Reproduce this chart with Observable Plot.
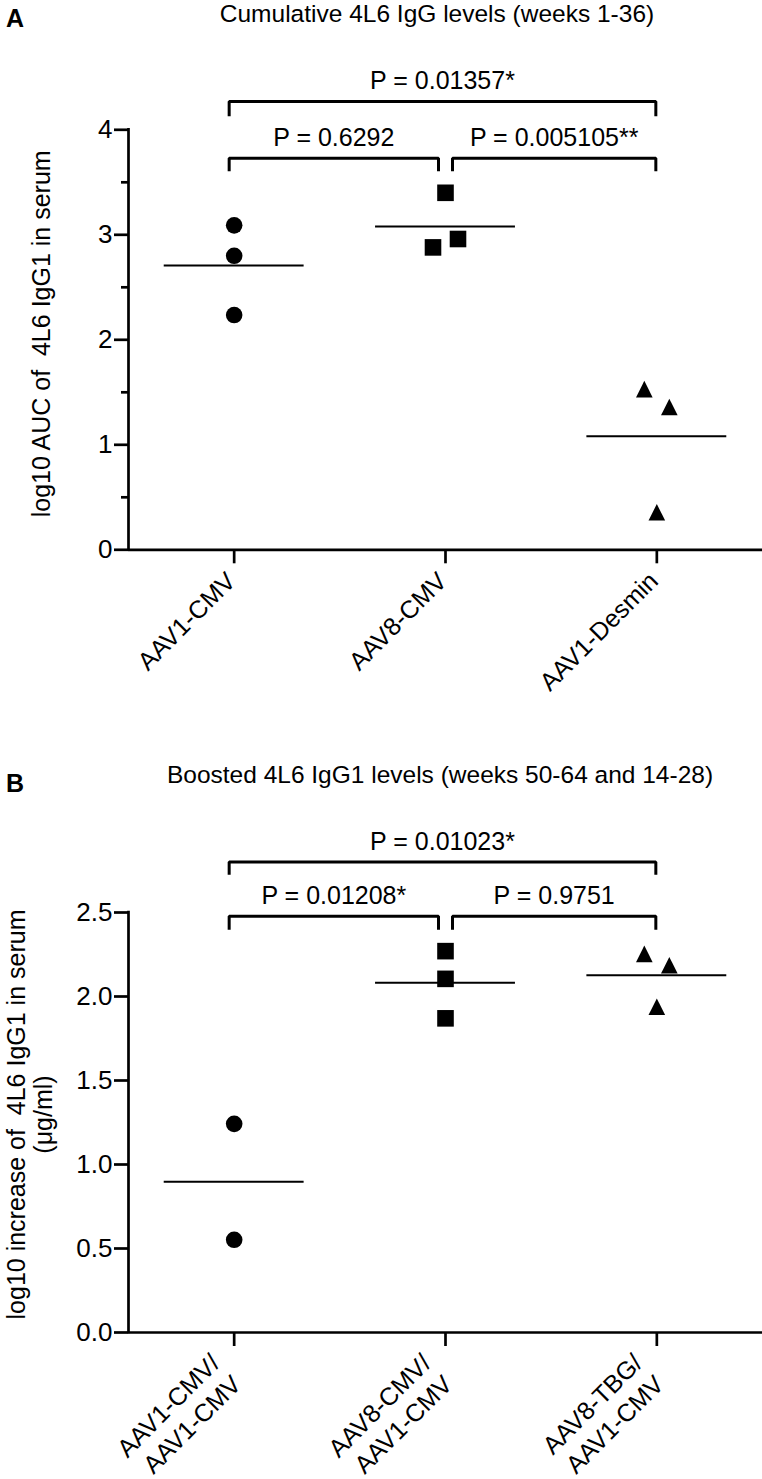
<!DOCTYPE html>
<html><head><meta charset="utf-8">
<script src="https://cdn.jsdelivr.net/npm/d3@7"></script>
<script src="https://cdn.jsdelivr.net/npm/@observablehq/plot@0.6"></script>
<style>
body{margin:0;background:#fff;font-family:"Liberation Sans",Arial,Helvetica,sans-serif;color:#000;}
#wrap{position:relative;width:762px;height:1479px;overflow:hidden;}
.panel{position:absolute;left:0;}
.lbl{position:absolute;font-weight:bold;font-size:25px;line-height:1;transform:translate(-50%,-50%);}
.ttl{position:absolute;font-size:24.5px;line-height:1;white-space:nowrap;transform:translate(-50%,-50%);}
</style></head><body>
<div id="wrap"></div>
<script>
// ---------- Panel A data ----------
const titleA = "Cumulative 4L6 IgG levels (weeks 1-36)";
const categoriesA = ["AAV1-CMV", "AAV8-CMV", "AAV1-Desmin"];
const aav1CmvA = [3.09, 2.80, 2.236];
const aav8CmvA = [3.40, 2.88, 2.96];
const aav1DesminA = [1.53, 1.36, 0.357];
const yTicksA = [0, 1, 2, 3, 4];
const yMinorTicksA = [0.5, 1.5, 2.5, 3.5];
const yTitleA = "log10 AUC of\u00a0 4L6 IgG1 in serum";
const bracketsA = [
  {from: 0, to: 2, tier: 2, label: "P = 0.01357*"},
  {from: 0, to: 1, tier: 1, label: "P = 0.6292"},
  {from: 1, to: 2, tier: 1, label: "P = 0.005105**"}
];

// ---------- Panel B data ----------
const titleB = "Boosted 4L6 IgG1 levels (weeks 50-64 and 14-28)";
const categoriesB = ["AAV1-CMV/\nAAV1-CMV", "AAV8-CMV/\nAAV1-CMV", "AAV8-TBG/\nAAV1-CMV"];
const aav1CmvB = [1.242, 0.552];
const aav8CmvB = [2.27, 2.105, 1.87];
const aav8TbgB = [2.254, 2.186, 1.939];
const yTicksB = [0, 0.5, 1, 1.5, 2, 2.5];
const yTitleB = "log10 increase of\u00a0 4L6 IgG1 in serum\n(\u03bcg/ml)";
const bracketsB = [
  {from: 0, to: 2, tier: 2, label: "P = 0.01023*"},
  {from: 0, to: 1, tier: 1, label: "P = 0.01208*"},
  {from: 1, to: 2, tier: 1, label: "P = 0.9751"}
];

// ---------- symbols ----------
const circleSym = {draw(ctx, size) { const r = Math.sqrt(size / Math.PI); ctx.moveTo(r, 0); ctx.arc(0, 0, r, 0, 2 * Math.PI); }};
const squareSym = {draw(ctx, size) { const s = 2 * Math.sqrt(size / Math.PI); ctx.rect(-s / 2, -s / 2, s, s); }};
const triSym = {draw(ctx, size) { const s = 2 * Math.sqrt(size / Math.PI); ctx.moveTo(0, -s / 2); ctx.lineTo(s / 2, s / 2); ctx.lineTo(-s / 2, s / 2); ctx.closePath(); }};

const FONT = "'Liberation Sans', Arial, Helvetica, sans-serif";
const STEP = 634 / 3; // px per category

function slotsFor(vals, pxPerUnit) {
  const s = vals.map(() => 0);
  for (let i = 0; i < vals.length; i++)
    for (let j = i + 1; j < vals.length; j++)
      if (s[i] === 0 && s[j] === 0 && Math.abs(vals[i] - vals[j]) * pxPerUnit < 20) { s[i] = -1; s[j] = 1; }
  return s;
}

function makePanel(cfg) {
  const pxPerUnit = (cfg.height - cfg.mt - cfg.mb) / cfg.yMax;
  const points = [];
  cfg.series.forEach((vals, gi) => {
    const sl = slotsFor(vals, pxPerUnit);
    vals.forEach((v, k) => points.push({g: gi, v, x: gi + sl[k] * 12.5 / STEP}));
  });
  const means = cfg.series.map((vals, gi) => ({g: gi, m: d3.mean(vals)}));

  const bracketLines = [];
  const bracketTexts = [];
  cfg.brackets.forEach((b, bi) => {
    const sharedStart = cfg.brackets.some(o => o !== b && o.to === b.from);
    const sharedEnd = cfg.brackets.some(o => o !== b && o.from === b.to);
    const xa = b.from + (sharedStart ? 7 : -5) / STEP;
    const xb = b.to + (sharedEnd ? -7 : -1) / STEP;
    const t = cfg.tiers[b.tier];
    const bottom = t.bar - t.leg;
    [[xa, bottom], [xa, t.bar], [xb, t.bar], [xb, bottom]].forEach(([x, y]) => bracketLines.push({id: bi, x, y}));
    bracketTexts.push({x: (xa + xb) / 2, y: t.bar, label: b.label});
  });

  const labels = cfg.categories.map((c, i) => ({i, c}));

  return Plot.plot({
    width: 762,
    height: cfg.height,
    marginLeft: 128,
    marginRight: 0,
    marginTop: cfg.mt,
    marginBottom: cfg.mb,
    x: {type: "linear", domain: [-0.5, 2.5], range: [128, 762]},
    y: {domain: [0, cfg.yMax]},
    symbol: {domain: [0, 1, 2], range: [circleSym, squareSym, triSym]},
    style: {fontFamily: FONT, fontSize: "25px", color: "#000", background: "#fff", overflow: "visible"},
    marks: [
      Plot.ruleX([-0.5], {y1: 0, y2: cfg.yMax, strokeWidth: 2.7, strokeLinecap: "square"}),
      Plot.ruleY([0], {x1: -0.5, x2: 2.5, strokeWidth: 2.7}),
      Plot.axisY({ticks: cfg.yTicks, tickSize: 14, tickPadding: 2, strokeWidth: 2.7, fontSize: 26,
        tickFormat: cfg.tickFormat, label: null}),
      cfg.yMinor ? Plot.axisY({ticks: cfg.yMinor, tickSize: 7, strokeWidth: 2.7, tickFormat: () => "", label: null}) : null,
      Plot.axisX({ticks: [0, 1, 2], tickSize: 14, strokeWidth: 2.7, tickFormat: () => "", label: null}),
      Plot.text(labels, {x: "i", y: () => 0, text: "c", rotate: -45, textAnchor: "end", lineAnchor: "middle",
        dx: cfg.labDx, dy: cfg.labDy, fontSize: 25, lineHeight: 1.2}),
      Plot.text([cfg.yTitle], {x: () => -0.5, y: () => cfg.yMax / 2, text: d => d, rotate: -90,
        textAnchor: "middle", lineAnchor: "middle", dx: cfg.ytDx, dy: cfg.ytDy, fontSize: 25, lineHeight: 1.1}),
      Plot.ruleY(means, {x1: d => d.g - 0.331, x2: d => d.g + 0.331, y: "m", strokeWidth: 2}),
      Plot.dot(points, {x: "x", y: "v", symbol: "g", r: 8.3, fill: "#000", stroke: "none"}),
      Plot.line(bracketLines, {x: "x", y: "y", z: "id", strokeWidth: 3, strokeLinejoin: "miter", strokeLinecap: "butt"}),
      Plot.text(bracketTexts, {x: "x", y: "y", text: "label", dy: -20, fontSize: 25, lineAnchor: "middle"})
    ]
  });
}

const wrap = document.getElementById("wrap");

const svgA = makePanel({
  height: 740, mt: 129.3, mb: 740 - 549.3, yMax: 4,
  series: [aav1CmvA, aav8CmvA, aav1DesminA],
  categories: categoriesA,
  yTicks: yTicksA, yMinor: yMinorTicksA, tickFormat: d => String(d),
  yTitle: yTitleA, ytDx: -87, ytDy: -6,
  brackets: bracketsA,
  tiers: {1: {bar: 3.73, leg: 0.125}, 2: {bar: 4.27, leg: 0.14}},
  labDx: -4, labDy: 26
});
svgA.classList.add("panel");
svgA.style.top = "0px";
wrap.appendChild(svgA);

const svgB = makePanel({
  height: 739, mt: 172, mb: 739 - 592, yMax: 2.5,
  series: [aav1CmvB, aav8CmvB, aav8TbgB],
  categories: categoriesB,
  yTicks: yTicksB, yMinor: null, tickFormat: d3.format(".1f"),
  yTitle: yTitleB, ytDx: -99, ytDy: -8,
  brackets: bracketsB,
  tiers: {1: {bar: 2.478, leg: 0.08}, 2: {bar: 2.80, leg: 0.075}},
  labDx: -9, labDy: 36
});
svgB.classList.add("panel");
svgB.style.top = "740px";
wrap.appendChild(svgB);

function addDiv(cls, text, x, y) {
  const d = document.createElement("div");
  d.className = cls; d.textContent = text;
  d.style.left = x + "px"; d.style.top = y + "px";
  wrap.appendChild(d);
}
addDiv("lbl", "A", 15, 18);
addDiv("ttl", titleA, 437, 14);
addDiv("lbl", "B", 15, 783);
addDiv("ttl", titleB, 440, 775);
</script>
</body></html>
